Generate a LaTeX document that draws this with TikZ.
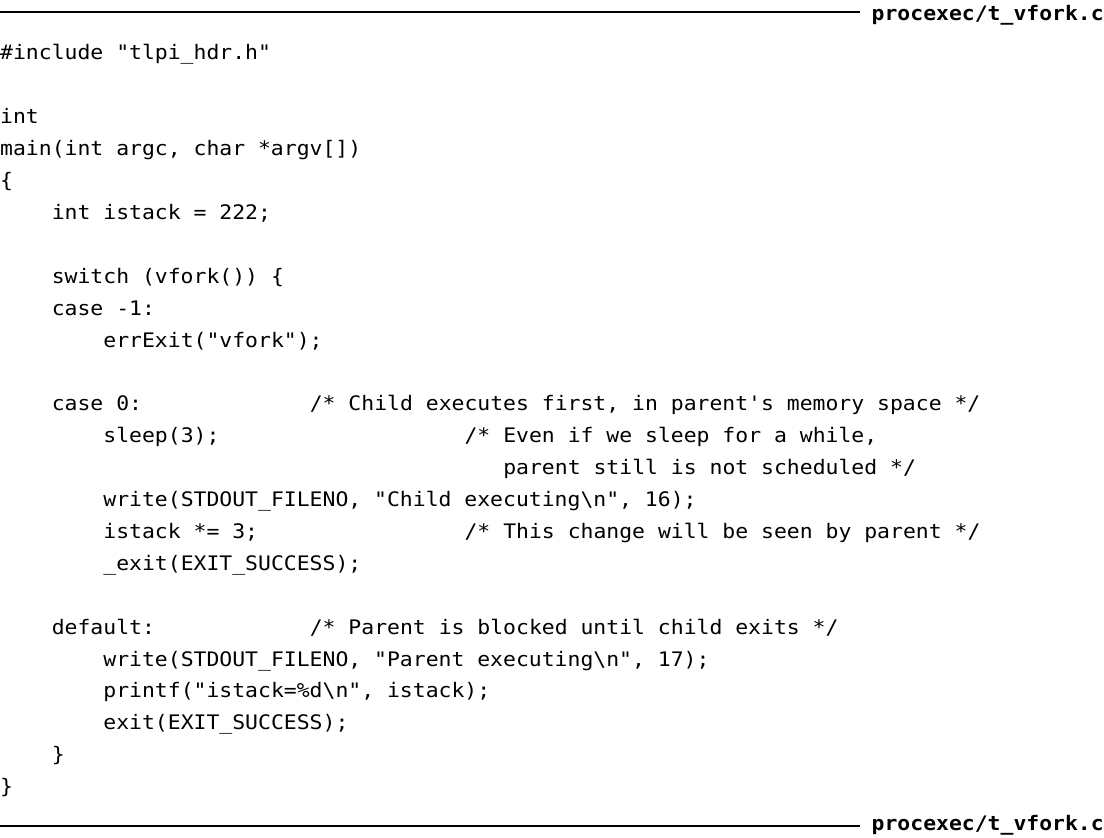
\documentclass[tikz,border=0pt]{standalone}
\usepackage{fontspec}
\setmonofont[FakeStretch=1.071]{DejaVu Sans Mono}
\newfontfamily\codebold[FakeStretch=1.071]{DejaVu Sans Mono Bold}
\newcommand\codefont{\ttfamily\fontsize{20}{32}\selectfont}
\newcommand\hdrfont{\codebold\fontsize{20}{32}\selectfont}
\newcommand\putline[4]{\node[codeline] (#1) at ({#3*12.9}, {838-60-31.9*#2}) {#4};}
\begin{document}
\begin{tikzpicture}[x=1pt,y=1pt,
  codeline/.style={anchor=base west, inner sep=0pt, font=\codefont, text=black},
  hdr/.style={anchor=base east, inner sep=0pt, font=\hdrfont, text=black},
  rule/.style={line width=2pt, draw=black}]
\useasboundingbox (0,0) rectangle (1104,838);
% header and footer
\coordinate (ta) at (0,826);
\coordinate (tb) at (860,826);
\draw[rule] (ta) -- (tb);
\node[hdr] (htop) at (1104,817) {procexec/t\_vfork.c};
\coordinate (ba) at (0,12);
\coordinate (bb) at (860,12);
\draw[rule] (ba) -- (bb);
\node[hdr] (hbot) at (1104,7) {procexec/t\_vfork.c};
% code
\putline{l0}{0}{0}{\#include "tlpi\_hdr.h"}
\putline{l2}{2}{0}{int}
\putline{l3}{3}{0}{main(int argc, char *argv[])}
\putline{l4}{4}{0}{\{}
\putline{l5}{5}{4}{int istack = 222;}
\putline{l7}{7}{4}{switch (vfork()) \{}
\putline{l8}{8}{4}{case -1:}
\putline{l9}{9}{8}{errExit("vfork");}
\putline{l11}{11}{4}{case 0:}
\putline{c11}{11}{24}{/* Child executes first, in parent's memory space */}
\putline{l12}{12}{8}{sleep(3);}
\putline{c12}{12}{36}{/* Even if we sleep for a while,}
\putline{c13}{13}{39}{parent still is not scheduled */}
\putline{l14}{14}{8}{write(STDOUT\_FILENO, "Child executing\textbackslash n", 16);}
\putline{l15}{15}{8}{istack *= 3;}
\putline{c15}{15}{36}{/* This change will be seen by parent */}
\putline{l16}{16}{8}{\_exit(EXIT\_SUCCESS);}
\putline{l18}{18}{4}{default:}
\putline{c18}{18}{24}{/* Parent is blocked until child exits */}
\putline{l19}{19}{8}{write(STDOUT\_FILENO, "Parent executing\textbackslash n", 17);}
\putline{l20}{20}{8}{printf("istack=\%d\textbackslash n", istack);}
\putline{l21}{21}{8}{exit(EXIT\_SUCCESS);}
\putline{l22}{22}{4}{\}}
\putline{l23}{23}{0}{\}}
\end{tikzpicture}
\end{document}
